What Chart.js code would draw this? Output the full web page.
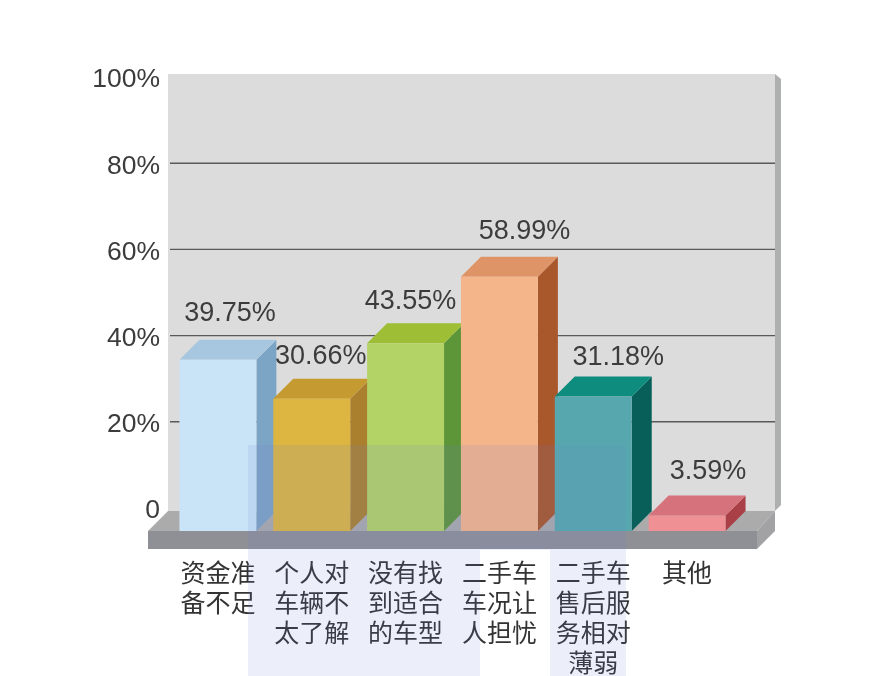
<!DOCTYPE html>
<html><head><meta charset="utf-8">
<style>html,body{margin:0;padding:0;background:#fff}canvas{display:block}</style>
<script src="https://cdn.jsdelivr.net/npm/chart.js@4"></script>
</head><body><canvas id="c" width="881" height="676"></canvas>
<script>
const categories = [["资金准","备不足"],["个人对","车辆不","太了解"],["没有找","到适合","的车型"],["二手车","车况让","人担忧"],["二手车","售后服","务相对","薄弱"],["其他"]];
const values = [39.75,30.66,43.55,58.99,31.18,3.59];
const yTicks = [0,20,40,60,80,100];
const frontColors = ["#C9E4F6","#DDB641","#B4D366","#F5B58B","#57A8AE","#EE9094"];
const topColors   = ["#A6C7DF","#C59A30","#9DBE35","#DF9467","#0E8C7E","#D6727B"];
const sideColors  = ["#7CA4C4","#AA802E","#5D9539","#A9582B","#085F59","#AA4047"];
const labelNudgeX = [-8,-11,-15,5,5,1];
const labelNudgeY = [-4,0,0,-3,3,-2];
const DEPTH = 20;

function poly(ctx, pts, fill){
  ctx.beginPath();
  pts.forEach((p,i)=> i?ctx.lineTo(p[0],p[1]):ctx.moveTo(p[0],p[1]));
  ctx.closePath(); ctx.fillStyle=fill; ctx.fill();
}
const scene = {
  id:'scene',
  beforeDatasetsDraw(chart){
    const ctx=chart.ctx, a=chart.chartArea, y=chart.scales.y;
    const wl=a.left-3, wr=a.right+41, wt=a.top-6, wb=a.bottom;
    const fb=wb+DEPTH;
    ctx.save();
    // back wall and right edge
    ctx.fillStyle="#DCDCDC"; ctx.fillRect(wl,wt,wr-wl,wb-wt);
    poly(ctx,[[wr,wt],[wr+6,wt+5],[wr+6,wb-6],[wr,wb]],"#AEB0B0");
    // gridlines sit slightly above their tick labels on the wall
    ctx.strokeStyle="#59595B"; ctx.lineWidth=1.4;
    y.ticks.forEach(t=>{
      if(t.value===0||t.value===100) return;
      const py=y.getPixelForValue(t.value)-3;
      ctx.beginPath(); ctx.moveTo(wl+2,py); ctx.lineTo(wr,py); ctx.stroke();
    });
    // floor
    poly(ctx,[[wl-20,fb],[wl,wb],[wr,wb],[wr-18,fb]],"#ABABAC");
    poly(ctx,[[wr-18,fb],[wr,wb],[wr,fb],[wr-18,fb+18]],"#A2A2A4");
    ctx.fillStyle="#8F9096"; ctx.fillRect(wl-20,fb,wr-18-wl+20,18);
    // bar depth faces, derived from each bar element
    const bars=chart.getDatasetMeta(0).data;
    bars.forEach((b,i)=>{
      const l=b.x-b.width/2, r=b.x+b.width/2, ty=b.y+DEPTH, by=b.base+DEPTH;
      poly(ctx,[[r,ty],[r+DEPTH,ty-DEPTH],[r+DEPTH,by-DEPTH],[r,by]],sideColors[i]);
      poly(ctx,[[l,ty],[l+DEPTH,ty-DEPTH],[r+DEPTH,ty-DEPTH],[r,ty]],topColors[i]);
    });
    ctx.restore();
    // native bars are the front faces, pushed forward by the depth
    ctx.save(); ctx.translate(0,DEPTH);
  },
  afterDatasetsDraw(chart){
    const ctx=chart.ctx;
    ctx.restore();
    ctx.save();
    ctx.font="27px 'Liberation Sans'"; ctx.fillStyle="#3C3C3C";
    ctx.textAlign="center"; ctx.textBaseline="middle";
    chart.getDatasetMeta(0).data.forEach((b,i)=>{
      ctx.fillText(values[i].toFixed(2)+"%", b.x+DEPTH+labelNudgeX[i], b.y-22+labelNudgeY[i]);
    });
    ctx.restore();
  },
  afterDraw(chart){
    // pale translucent patch lying over the lower part of the picture
    const ctx=chart.ctx;
    ctx.save(); ctx.fillStyle="rgba(105,120,205,0.13)";
    ctx.fillRect(248,445,232,231);
    ctx.fillRect(480,445,70,105);
    ctx.fillRect(550,445,76,231);
    ctx.restore();
  }
};

new Chart(document.getElementById('c'),{
  type:'bar',
  data:{labels:categories,datasets:[{data:values,backgroundColor:frontColors,borderWidth:0,
    categoryPercentage:1,barPercentage:0.82,clip:false}]},
  options:{
    responsive:false,animation:false,
    layout:{padding:{top:80,right:147,bottom:0,left:0}},
    plugins:{legend:{display:false},tooltip:{enabled:false},title:{display:false}},
    scales:{
      x:{
        afterFit(s){s.height=165;},
        grid:{display:false},border:{display:false},
        ticks:{autoSkip:false,maxRotation:0,minRotation:0,padding:38,color:"#333",
          font:{family:"'Noto Sans CJK SC'",size:25,lineHeight:1.2}}
      },
      y:{
        min:0,max:100,
        afterFit(s){s.width=171;},
        afterBuildTicks(s){s.ticks=yTicks.map(v=>({value:v}));},
        grid:{display:false},border:{display:false},
        ticks:{padding:3,color:"#3C3C3C",font:{family:"'Liberation Sans'",size:26.5},
          callback:v=>v===0?"0":v+"%"}
      }
    }
  },
  plugins:[scene]
});
</script></body></html>
